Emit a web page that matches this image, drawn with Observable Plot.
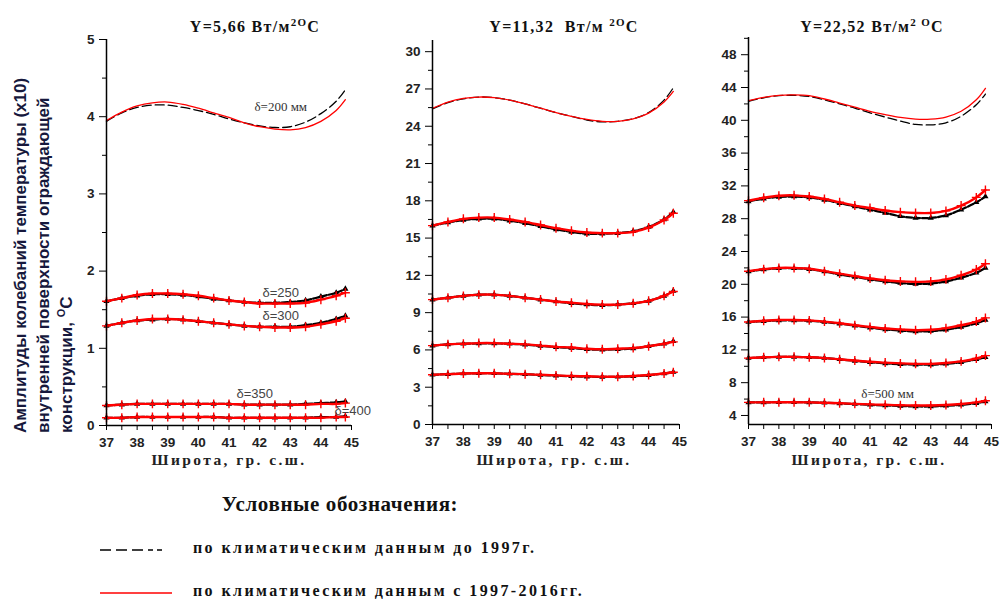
<!DOCTYPE html>
<html><head><meta charset="utf-8">
<script src="https://cdn.jsdelivr.net/npm/d3@7"></script>
<script src="https://cdn.jsdelivr.net/npm/@observablehq/plot@0.6"></script>
<style>
body{margin:0;background:#fff;}
#root{position:relative;width:1002px;height:600px;overflow:hidden;background:#fff;}
.abs{position:absolute;white-space:nowrap;}
.title{font-family:"Liberation Serif","Times New Roman",serif;font-weight:bold;font-size:16px;letter-spacing:1.3px;color:#111;transform:translateX(-50%);top:18px;}
.title sup{font-size:11px;vertical-align:6px;line-height:0;}
.xlab{font-family:"Liberation Serif","Times New Roman",serif;font-weight:bold;font-size:15.5px;letter-spacing:2.4px;color:#222;transform:translateX(-50%);top:451px;}
.ylab{font-family:"Liberation Sans",Arial,sans-serif;font-weight:bold;font-size:17px;line-height:23px;color:#16183c;transform-origin:left top;transform:rotate(-90deg);left:9px;top:433px;width:420px;}
.ylab sup{font-size:11px;vertical-align:7px;line-height:0;}
.legtitle{font-family:"Liberation Serif","Times New Roman",serif;font-weight:bold;font-size:21px;color:#111;left:340px;top:492px;transform:translateX(-50%);letter-spacing:0.6px;}
.legtext{font-family:"Liberation Serif","Times New Roman",serif;font-weight:bold;font-size:16px;letter-spacing:2.4px;color:#111;left:193px;}
</style></head><body><div id="root"></div>
<script>
// ---------- data ----------
const latitudes = [37,37.5,38,38.5,39,39.5,40,40.5,41,41.5,42,42.5,43,43.5,44,44.5,44.8];
const xTicks = [37,38,39,40,41,42,43,44,45];
const xMinorTicks = [37.5,38.5,39.5,40.5,41.5,42.5,43.5,44.5];

const panelTitles = ["Y=5,66 Вт/м<sup>2O</sup>C", "Y=11,32&nbsp; Вт/м <sup>2O</sup>C", "Y=22,52 Вт/м<sup>2 O</sup>C"];
const xAxisLabel = "Широта, гр. с.ш.";
const yAxisLines = ["Амплитуды колебаний температуры (x10)", "внутренней поверхности ограждающей", "конструкции, <sup>O</sup>C"];
const legendTitle = "Условные обозначения:";
const legendOld = "по климатическим данным до 1997г.";
const legendNew = "по климатическим данным с 1997-2016гг.";

// panel 1 : Y=5,66
const p1_d200_old = [3.94,4.05,4.12,4.15,4.15,4.12,4.08,4.03,3.97,3.92,3.88,3.86,3.87,3.93,4.04,4.20,4.35];
const p1_d200_new = [3.95,4.06,4.14,4.18,4.19,4.16,4.11,4.05,3.99,3.92,3.87,3.84,3.83,3.86,3.94,4.08,4.22];
const p1_d250_old = [1.61,1.65,1.68,1.70,1.70,1.69,1.67,1.64,1.62,1.60,1.59,1.59,1.60,1.62,1.67,1.72,1.77];
const p1_d250_new = [1.61,1.65,1.69,1.71,1.71,1.70,1.68,1.65,1.62,1.60,1.58,1.58,1.58,1.59,1.63,1.68,1.72];
const p1_d300_old = [1.29,1.33,1.36,1.37,1.38,1.37,1.35,1.33,1.31,1.29,1.28,1.28,1.28,1.30,1.33,1.38,1.42];
const p1_d300_new = [1.29,1.33,1.36,1.38,1.38,1.37,1.35,1.33,1.31,1.29,1.28,1.27,1.27,1.28,1.31,1.35,1.39];
const p1_d350_old = [0.26,0.27,0.28,0.28,0.28,0.28,0.28,0.28,0.28,0.27,0.27,0.27,0.27,0.28,0.29,0.30,0.31];
const p1_d350_new = [0.26,0.27,0.28,0.28,0.28,0.28,0.28,0.28,0.28,0.27,0.27,0.27,0.27,0.27,0.28,0.28,0.29];
const p1_d400_old = [0.10,0.10,0.11,0.11,0.11,0.11,0.11,0.11,0.10,0.10,0.10,0.10,0.10,0.10,0.11,0.11,0.12];
const p1_d400_new = [0.10,0.10,0.11,0.11,0.11,0.11,0.11,0.11,0.10,0.10,0.10,0.10,0.10,0.10,0.10,0.11,0.11];

// panel 2 : Y=11,32
const p2_c1_old = [25.4,25.9,26.2,26.35,26.3,26.1,25.8,25.45,25.1,24.8,24.5,24.35,24.4,24.6,25.1,26.1,27.1];
const p2_c1_new = [25.45,25.95,26.25,26.35,26.3,26.1,25.8,25.45,25.1,24.8,24.55,24.4,24.4,24.6,25.05,25.95,26.8];
const p2_c2_old = [16.0,16.25,16.45,16.55,16.55,16.4,16.2,15.95,15.7,15.5,15.35,15.35,15.4,15.55,15.9,16.5,17.1];
const p2_c2_new = [16.0,16.3,16.55,16.65,16.65,16.5,16.3,16.05,15.8,15.6,15.45,15.4,15.4,15.5,15.85,16.45,17.0];
const p2_c3_old = [10.05,10.2,10.35,10.45,10.45,10.35,10.2,10.05,9.9,9.75,9.65,9.6,9.65,9.75,9.95,10.35,10.75];
const p2_c3_new = [10.05,10.2,10.35,10.45,10.45,10.35,10.2,10.05,9.9,9.8,9.7,9.65,9.65,9.75,9.95,10.35,10.7];
const p2_c4_old = [6.35,6.45,6.5,6.52,6.52,6.5,6.42,6.32,6.22,6.15,6.05,6.02,6.05,6.12,6.3,6.5,6.7];
const p2_c4_new = [6.35,6.45,6.5,6.55,6.55,6.5,6.45,6.35,6.25,6.2,6.1,6.05,6.1,6.15,6.3,6.5,6.65];
const p2_c5_old = [4.0,4.05,4.1,4.12,4.12,4.08,4.04,3.98,3.93,3.88,3.85,3.83,3.84,3.88,3.97,4.1,4.22];
const p2_c5_new = [4.0,4.05,4.1,4.12,4.12,4.08,4.05,4.0,3.95,3.9,3.88,3.85,3.85,3.9,3.98,4.1,4.2];

// panel 3 : Y=22,52
const p3_c1_old = [42.3,42.75,43.0,43.05,42.9,42.5,42.0,41.5,40.9,40.4,39.9,39.5,39.45,39.7,40.5,41.9,43.2];
const p3_c1_new = [42.4,42.8,43.05,43.1,43.0,42.6,42.1,41.6,41.1,40.7,40.35,40.15,40.15,40.4,41.1,42.5,43.9];
const p3_c2_old = [30.1,30.45,30.65,30.7,30.6,30.3,29.9,29.5,29.1,28.7,28.3,28.1,28.1,28.4,29.1,30.0,30.7];
const p3_c2_new = [30.2,30.55,30.8,30.85,30.7,30.4,30.0,29.6,29.3,29.0,28.8,28.7,28.7,28.95,29.6,30.6,31.5];
const p3_c3_old = [21.55,21.8,21.95,21.95,21.85,21.55,21.2,20.9,20.6,20.35,20.15,20.05,20.1,20.35,20.8,21.4,22.0];
const p3_c3_new = [21.6,21.85,22.0,22.0,21.9,21.6,21.3,21.0,20.7,20.5,20.35,20.3,20.35,20.6,21.1,21.8,22.5];
const p3_c4_old = [15.4,15.5,15.6,15.6,15.55,15.4,15.2,14.95,14.7,14.5,14.35,14.25,14.3,14.45,14.8,15.25,15.65];
const p3_c4_new = [15.4,15.55,15.65,15.65,15.6,15.45,15.25,15.0,14.8,14.6,14.5,14.4,14.45,14.65,15.0,15.45,15.9];
const p3_c5_old = [11.0,11.1,11.15,11.15,11.1,11.0,10.85,10.65,10.5,10.35,10.25,10.2,10.2,10.3,10.5,10.85,11.1];
const p3_c5_new = [11.0,11.1,11.15,11.15,11.1,11.0,10.85,10.7,10.55,10.45,10.35,10.3,10.3,10.4,10.6,10.95,11.3];
const p3_c6_old = [5.6,5.6,5.62,5.62,5.6,5.55,5.48,5.4,5.3,5.22,5.15,5.1,5.1,5.18,5.3,5.5,5.7];
const p3_c6_new = [5.6,5.6,5.62,5.62,5.6,5.55,5.5,5.42,5.35,5.3,5.25,5.22,5.22,5.28,5.4,5.6,5.8];

// y ticks per panel
const p1_yTicks = [0,1,2,3,4,5];
const p1_yMinor = [0.5,1.5,2.5,3.5,4.5];
const p2_yTicks = [0,3,6,9,12,15,18,21,24,27,30];
const p2_yMinor = [1.5,4.5,7.5,10.5,13.5,16.5,19.5,22.5,25.5,28.5];
const p3_yTicks = [4,8,12,16,20,24,28,32,36,40,44,48];
const p3_yMinor = [6,10,14,18,22,26,30,34,38,42,46,50];

// curve annotations: label, latitude anchor, value anchor
const p1_notes = [
  {label:"δ=200 мм", lat:42.69, v:4.13, serif:true, anchor:"middle"},
  {label:"δ=250", lat:42.69, v:1.72, serif:false, anchor:"middle"},
  {label:"δ=300", lat:42.69, v:1.42, serif:false, anchor:"middle"},
  {label:"δ=350", lat:41.84, v:0.41, serif:false, anchor:"middle"},
  {label:"δ=400", lat:45.04, v:0.19, serif:false, anchor:"start"}
];
const p2_notes = [];
const p3_notes = [
  {label:"δ=500 мм", lat:41.58, v:6.68, serif:true, anchor:"middle"}
];

// ---------- build ----------
const RED = "#ff0000";
const rows = arr => arr.map((v,i) => ({lat: latitudes[i], v}));

function curveMarks(oldVals, newVals, marked) {
  const o = rows(oldVals), n = rows(newVals);
  if (!marked) {
    return [
      Plot.line(o, {x:"lat", y:"v", stroke:"#000", strokeWidth:1.3, strokeDasharray:"9,4", curve:"catmull-rom"}),
      Plot.line(n, {x:"lat", y:"v", stroke:RED, strokeWidth:1.3, curve:"catmull-rom"})
    ];
  }
  return [
    Plot.line(o, {x:"lat", y:"v", stroke:"#000", strokeWidth:2.2, strokeDasharray:"6,2", curve:"catmull-rom"}),
    Plot.dot(o, {x:"lat", y:"v", symbol:"triangle", r:2.3, fill:"#000"}),
    Plot.line(n, {x:"lat", y:"v", stroke:RED, strokeWidth:2.4, curve:"catmull-rom"}),
    Plot.dot(n, {x:"lat", y:"v", symbol:"plus", r:3, stroke:RED, strokeWidth:1.4})
  ];
}

const panels = [
  {left:0, width:400, mL:106, mR:49, mT:39, mB:55, domain:[0,5], ticks:p1_yTicks, minor:p1_yMinor,
   curves:[[p1_d200_old,p1_d200_new,false],[p1_d250_old,p1_d250_new,true],[p1_d300_old,p1_d300_new,true],[p1_d350_old,p1_d350_new,true],[p1_d400_old,p1_d400_new,true]],
   notes:p1_notes, titleX:255, xlabX:229},
  {left:392, width:300, mL:40, mR:13, mT:40, mB:56, domain:[0,30.9], ticks:p2_yTicks, minor:p2_yMinor,
   curves:[[p2_c1_old,p2_c1_new,false],[p2_c2_old,p2_c2_new,true],[p2_c3_old,p2_c3_new,true],[p2_c4_old,p2_c4_new,true],[p2_c5_old,p2_c5_new,true]],
   notes:p2_notes, titleX:564, xlabX:554},
  {left:700, width:302, mL:48, mR:11, mT:37, mB:56, domain:[2.9,50.1], ticks:p3_yTicks, minor:p3_yMinor,
   curves:[[p3_c1_old,p3_c1_new,false],[p3_c2_old,p3_c2_new,true],[p3_c3_old,p3_c3_new,true],[p3_c4_old,p3_c4_new,true],[p3_c5_old,p3_c5_new,true],[p3_c6_old,p3_c6_new,true]],
   notes:p3_notes, titleX:872, xlabX:869}
];

const root = document.getElementById("root");

panels.forEach((p, idx) => {
  const marks = [];
  p.curves.forEach(c => marks.push(...curveMarks(c[0], c[1], c[2])));
  marks.push(
    Plot.ruleX([37], {stroke:"#000", strokeWidth:1.5}),
    Plot.ruleY([p.domain[0]], {stroke:"#000", strokeWidth:1.5}),
    Plot.axisY({ticks:p.ticks, tickSize:7, tickPadding:5, label:null, tickFormat:d => String(d), stroke:"#000", fill:"#222"}),
    Plot.axisY({ticks:p.minor, tickSize:4, label:null, tickFormat:() => "", stroke:"#000"}),
    Plot.axisX({ticks:xTicks, tickSize:5, tickPadding:7, label:null, tickFormat:d => String(d), stroke:"#000", fill:"#222"}),
    Plot.axisX({ticks:xMinorTicks, tickSize:5, label:null, tickFormat:() => "", stroke:"#000"}),
    Plot.text(p.notes.filter(d => d.serif), {x:"lat", y:"v", text:"label", textAnchor:"middle", fontFamily:"Liberation Serif, serif", fontWeight:"normal", fontSize:13, fill:"#333"}),
    Plot.text(p.notes.filter(d => !d.serif), {x:"lat", y:"v", text:"label", textAnchor:d => d.anchor, fontFamily:"Liberation Sans, Arial, sans-serif", fontWeight:"normal", fontSize:13, fill:"#444"})
  );
  const chart = Plot.plot({
    width:p.width, height:480,
    marginLeft:p.mL, marginRight:p.mR, marginTop:p.mT, marginBottom:p.mB,
    x:{domain:[37,45], label:null},
    y:{domain:p.domain, label:null},
    style:{background:"transparent", overflow:"visible", fontFamily:"Liberation Sans, Arial, sans-serif", fontWeight:"bold", fontSize:"13.5px", color:"#222"},
    marks
  });
  chart.style.position = "absolute";
  chart.style.left = p.left + "px";
  chart.style.top = "0px";
  root.appendChild(chart);

  const t = document.createElement("div");
  t.className = "abs title";
  t.style.left = p.titleX + "px";
  t.innerHTML = panelTitles[idx];
  root.appendChild(t);

  const xl = document.createElement("div");
  xl.className = "abs xlab";
  xl.style.left = p.xlabX + "px";
  xl.textContent = xAxisLabel;
  root.appendChild(xl);
});

const yl = document.createElement("div");
yl.className = "abs ylab";
yl.innerHTML = yAxisLines.join("<br>");
root.appendChild(yl);

const lt = document.createElement("div");
lt.className = "abs legtitle";
lt.textContent = legendTitle;
root.appendChild(lt);

function legendRow(y, text, stroke, dash) {
  const svgNS = "http://www.w3.org/2000/svg";
  const s = document.createElementNS(svgNS, "svg");
  s.setAttribute("width", 80); s.setAttribute("height", 10);
  s.style.position = "absolute"; s.style.left = "98px"; s.style.top = (y - 5) + "px";
  const l = document.createElementNS(svgNS, "line");
  l.setAttribute("x1", 2); l.setAttribute("x2", 74); l.setAttribute("y1", 5); l.setAttribute("y2", 5);
  l.setAttribute("stroke", stroke); l.setAttribute("stroke-width", 1.6);
  if (dash) l.setAttribute("stroke-dasharray", dash);
  s.appendChild(l);
  root.appendChild(s);
  const d = document.createElement("div");
  d.className = "abs legtext";
  d.style.top = (y - 11) + "px";
  d.textContent = text;
  root.appendChild(d);
}
legendRow(550, legendOld, "#000", "11,5,11,5,11,5,5,4,5");
legendRow(593, legendNew, RED, null);
</script></body></html>
